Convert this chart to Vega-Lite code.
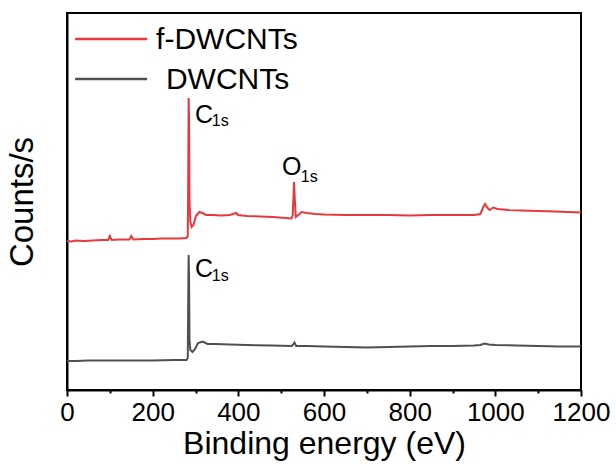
{
  "$schema": "https://vega.github.io/schema/vega-lite/v6.json",
  "width": 514,
  "height": 377,
  "autosize": {"type": "none"},
  "padding": {"left": 67, "top": 13, "right": 35, "bottom": 75},
  "background": "white",
  "config": {
    "view": {"stroke": "black", "strokeWidth": 2},
    "font": "Liberation Sans",
    "axis": {"grid": false, "labelFont": "Liberation Sans", "titleFont": "Liberation Sans", "labelColor": "black", "titleColor": "black", "titleFontWeight": "normal", "domainColor": "black", "tickColor": "black"}
  },
  "datasets": {
    "spectra": [
      {"energy": 0, "counts": 14900, "sample": "f-DWCNTs"},
      {"energy": 10, "counts": 14850, "sample": "f-DWCNTs"},
      {"energy": 20, "counts": 14950, "sample": "f-DWCNTs"},
      {"energy": 40, "counts": 14900, "sample": "f-DWCNTs"},
      {"energy": 60, "counts": 14950, "sample": "f-DWCNTs"},
      {"energy": 80, "counts": 15000, "sample": "f-DWCNTs"},
      {"energy": 96, "counts": 15000, "sample": "f-DWCNTs"},
      {"energy": 100, "counts": 15400, "sample": "f-DWCNTs"},
      {"energy": 104, "counts": 15000, "sample": "f-DWCNTs"},
      {"energy": 120, "counts": 15050, "sample": "f-DWCNTs"},
      {"energy": 146, "counts": 15050, "sample": "f-DWCNTs"},
      {"energy": 150, "counts": 15400, "sample": "f-DWCNTs"},
      {"energy": 155, "counts": 15050, "sample": "f-DWCNTs"},
      {"energy": 180, "counts": 15100, "sample": "f-DWCNTs"},
      {"energy": 200, "counts": 15100, "sample": "f-DWCNTs"},
      {"energy": 220, "counts": 15150, "sample": "f-DWCNTs"},
      {"energy": 240, "counts": 15150, "sample": "f-DWCNTs"},
      {"energy": 260, "counts": 15150, "sample": "f-DWCNTs"},
      {"energy": 279, "counts": 15200, "sample": "f-DWCNTs"},
      {"energy": 282, "counts": 15400, "sample": "f-DWCNTs"},
      {"energy": 283, "counts": 21000, "sample": "f-DWCNTs"},
      {"energy": 284, "counts": 29200, "sample": "f-DWCNTs"},
      {"energy": 285, "counts": 27000, "sample": "f-DWCNTs"},
      {"energy": 286, "counts": 19000, "sample": "f-DWCNTs"},
      {"energy": 288, "counts": 16800, "sample": "f-DWCNTs"},
      {"energy": 291, "counts": 16300, "sample": "f-DWCNTs"},
      {"energy": 295, "counts": 16500, "sample": "f-DWCNTs"},
      {"energy": 301, "counts": 17400, "sample": "f-DWCNTs"},
      {"energy": 309, "counts": 17800, "sample": "f-DWCNTs"},
      {"energy": 316, "counts": 17700, "sample": "f-DWCNTs"},
      {"energy": 325, "counts": 17500, "sample": "f-DWCNTs"},
      {"energy": 340, "counts": 17500, "sample": "f-DWCNTs"},
      {"energy": 360, "counts": 17450, "sample": "f-DWCNTs"},
      {"energy": 380, "counts": 17500, "sample": "f-DWCNTs"},
      {"energy": 395, "counts": 17700, "sample": "f-DWCNTs"},
      {"energy": 399, "counts": 17500, "sample": "f-DWCNTs"},
      {"energy": 420, "counts": 17400, "sample": "f-DWCNTs"},
      {"energy": 450, "counts": 17350, "sample": "f-DWCNTs"},
      {"energy": 480, "counts": 17300, "sample": "f-DWCNTs"},
      {"energy": 510, "counts": 17200, "sample": "f-DWCNTs"},
      {"energy": 524, "counts": 17150, "sample": "f-DWCNTs"},
      {"energy": 527, "counts": 17500, "sample": "f-DWCNTs"},
      {"energy": 530, "counts": 20800, "sample": "f-DWCNTs"},
      {"energy": 532, "counts": 19000, "sample": "f-DWCNTs"},
      {"energy": 534, "counts": 17300, "sample": "f-DWCNTs"},
      {"energy": 540, "counts": 17500, "sample": "f-DWCNTs"},
      {"energy": 548, "counts": 17800, "sample": "f-DWCNTs"},
      {"energy": 560, "counts": 17700, "sample": "f-DWCNTs"},
      {"energy": 580, "counts": 17600, "sample": "f-DWCNTs"},
      {"energy": 600, "counts": 17550, "sample": "f-DWCNTs"},
      {"energy": 650, "counts": 17500, "sample": "f-DWCNTs"},
      {"energy": 700, "counts": 17500, "sample": "f-DWCNTs"},
      {"energy": 750, "counts": 17500, "sample": "f-DWCNTs"},
      {"energy": 800, "counts": 17450, "sample": "f-DWCNTs"},
      {"energy": 850, "counts": 17500, "sample": "f-DWCNTs"},
      {"energy": 900, "counts": 17500, "sample": "f-DWCNTs"},
      {"energy": 950, "counts": 17500, "sample": "f-DWCNTs"},
      {"energy": 965, "counts": 17600, "sample": "f-DWCNTs"},
      {"energy": 972, "counts": 18300, "sample": "f-DWCNTs"},
      {"energy": 976, "counts": 18600, "sample": "f-DWCNTs"},
      {"energy": 982, "counts": 18200, "sample": "f-DWCNTs"},
      {"energy": 987, "counts": 18000, "sample": "f-DWCNTs"},
      {"energy": 995, "counts": 18250, "sample": "f-DWCNTs"},
      {"energy": 1005, "counts": 18100, "sample": "f-DWCNTs"},
      {"energy": 1030, "counts": 18000, "sample": "f-DWCNTs"},
      {"energy": 1060, "counts": 17950, "sample": "f-DWCNTs"},
      {"energy": 1100, "counts": 17900, "sample": "f-DWCNTs"},
      {"energy": 1140, "counts": 17850, "sample": "f-DWCNTs"},
      {"energy": 1170, "counts": 17800, "sample": "f-DWCNTs"},
      {"energy": 1200, "counts": 17750, "sample": "f-DWCNTs"},
      {"energy": 0, "counts": 2900, "sample": "DWCNTs"},
      {"energy": 20, "counts": 2900, "sample": "DWCNTs"},
      {"energy": 50, "counts": 2950, "sample": "DWCNTs"},
      {"energy": 100, "counts": 2950, "sample": "DWCNTs"},
      {"energy": 150, "counts": 2950, "sample": "DWCNTs"},
      {"energy": 200, "counts": 2950, "sample": "DWCNTs"},
      {"energy": 250, "counts": 3000, "sample": "DWCNTs"},
      {"energy": 279, "counts": 3000, "sample": "DWCNTs"},
      {"energy": 282, "counts": 3200, "sample": "DWCNTs"},
      {"energy": 283, "counts": 9000, "sample": "DWCNTs"},
      {"energy": 284, "counts": 13500, "sample": "DWCNTs"},
      {"energy": 285, "counts": 11000, "sample": "DWCNTs"},
      {"energy": 286, "counts": 5000, "sample": "DWCNTs"},
      {"energy": 288, "counts": 4000, "sample": "DWCNTs"},
      {"energy": 293, "counts": 3800, "sample": "DWCNTs"},
      {"energy": 299, "counts": 4100, "sample": "DWCNTs"},
      {"energy": 306, "counts": 4700, "sample": "DWCNTs"},
      {"energy": 317, "counts": 4850, "sample": "DWCNTs"},
      {"energy": 328, "counts": 4600, "sample": "DWCNTs"},
      {"energy": 344, "counts": 4600, "sample": "DWCNTs"},
      {"energy": 380, "counts": 4550, "sample": "DWCNTs"},
      {"energy": 420, "counts": 4500, "sample": "DWCNTs"},
      {"energy": 480, "counts": 4450, "sample": "DWCNTs"},
      {"energy": 524, "counts": 4400, "sample": "DWCNTs"},
      {"energy": 527, "counts": 4500, "sample": "DWCNTs"},
      {"energy": 531, "counts": 4750, "sample": "DWCNTs"},
      {"energy": 535, "counts": 4400, "sample": "DWCNTs"},
      {"energy": 560, "counts": 4400, "sample": "DWCNTs"},
      {"energy": 600, "counts": 4350, "sample": "DWCNTs"},
      {"energy": 650, "counts": 4300, "sample": "DWCNTs"},
      {"energy": 700, "counts": 4250, "sample": "DWCNTs"},
      {"energy": 750, "counts": 4300, "sample": "DWCNTs"},
      {"energy": 800, "counts": 4350, "sample": "DWCNTs"},
      {"energy": 850, "counts": 4400, "sample": "DWCNTs"},
      {"energy": 900, "counts": 4400, "sample": "DWCNTs"},
      {"energy": 950, "counts": 4450, "sample": "DWCNTs"},
      {"energy": 965, "counts": 4500, "sample": "DWCNTs"},
      {"energy": 975, "counts": 4650, "sample": "DWCNTs"},
      {"energy": 985, "counts": 4550, "sample": "DWCNTs"},
      {"energy": 1000, "counts": 4500, "sample": "DWCNTs"},
      {"energy": 1050, "counts": 4450, "sample": "DWCNTs"},
      {"energy": 1100, "counts": 4400, "sample": "DWCNTs"},
      {"energy": 1150, "counts": 4350, "sample": "DWCNTs"},
      {"energy": 1200, "counts": 4350, "sample": "DWCNTs"}
    ],
    "legendRows": [
      {"x1": 19, "x2": 187, "xt": 208, "y": 35100, "sample": "f-DWCNTs", "label": "f-DWCNTs"},
      {"x1": 19, "x2": 187, "xt": 231, "y": 31100, "sample": "DWCNTs", "label": "DWCNTs"}
    ],
    "peakLabels": [
      {"x": 299, "y": 26700, "text": "C"},
      {"x": 299, "y": 11300, "text": "C"},
      {"x": 502, "y": 21500, "text": "O"}
    ],
    "peakSubs": [
      {"x": 338, "y": 26400, "text": "1s"},
      {"x": 338, "y": 10900, "text": "1s"},
      {"x": 546, "y": 20800, "text": "1s"}
    ]
  },
  "resolve": {"axis": {"x": "independent"}},
  "layer": [
    {
      "data": {"name": "spectra"},
      "mark": {"type": "line", "strokeWidth": 2, "interpolate": "linear"},
      "encoding": {
        "x": {"field": "energy", "type": "quantitative", "scale": {"domain": [0, 1200], "nice": false, "zero": false},
          "axis": {"orient": "bottom", "values": [0, 200, 400, 600, 800, 1000, 1200], "format": "d", "labelFontSize": 26, "labelPadding": 3, "tickSize": 6, "tickWidth": 2, "domainWidth": 2, "labelFlush": false, "labelOverlap": false, "title": "Binding energy (eV)", "titleFontSize": 32, "titlePadding": 3}},
        "y": {"field": "counts", "type": "quantitative", "scale": {"domain": [0, 37700], "nice": false, "zero": false},
          "axis": {"title": "Counts/s", "labels": false, "ticks": false, "domainWidth": 2, "titleFontSize": 33, "titlePadding": 28}},
        "color": {"field": "sample", "type": "nominal", "scale": {"domain": ["f-DWCNTs", "DWCNTs"], "range": ["#e8383d", "#505050"]}, "legend": null},
        "detail": {"field": "sample"}
      }
    },
    {
      "data": {"name": "legendRows"},
      "mark": {"type": "rule", "strokeWidth": 2.5},
      "encoding": {
        "x": {"field": "x1", "type": "quantitative",
          "axis": {"orient": "bottom", "values": [100, 300, 500, 700, 900, 1100], "labels": false, "domain": false, "tickSize": 3, "tickWidth": 2, "title": null}},
        "x2": {"field": "x2"},
        "y": {"field": "y", "type": "quantitative"},
        "color": {"field": "sample", "type": "nominal", "legend": null}
      }
    },
    {
      "data": {"name": "legendRows"},
      "mark": {"type": "text", "align": "left", "baseline": "middle", "fontSize": 30, "font": "Liberation Sans", "color": "black", "dy": 1},
      "encoding": {
        "x": {"field": "xt", "type": "quantitative", "axis": null},
        "y": {"field": "y", "type": "quantitative"},
        "text": {"field": "label"}
      }
    },
    {
      "data": {"name": "peakLabels"},
      "mark": {"type": "text", "align": "left", "baseline": "alphabetic", "fontSize": 25, "font": "Liberation Sans", "color": "black"},
      "encoding": {
        "x": {"field": "x", "type": "quantitative", "axis": null},
        "y": {"field": "y", "type": "quantitative"},
        "text": {"field": "text"}
      }
    },
    {
      "data": {"name": "peakSubs"},
      "mark": {"type": "text", "align": "left", "baseline": "alphabetic", "fontSize": 16, "font": "Liberation Sans", "color": "black"},
      "encoding": {
        "x": {"field": "x", "type": "quantitative", "axis": null},
        "y": {"field": "y", "type": "quantitative"},
        "text": {"field": "text"}
      }
    }
  ]
}
